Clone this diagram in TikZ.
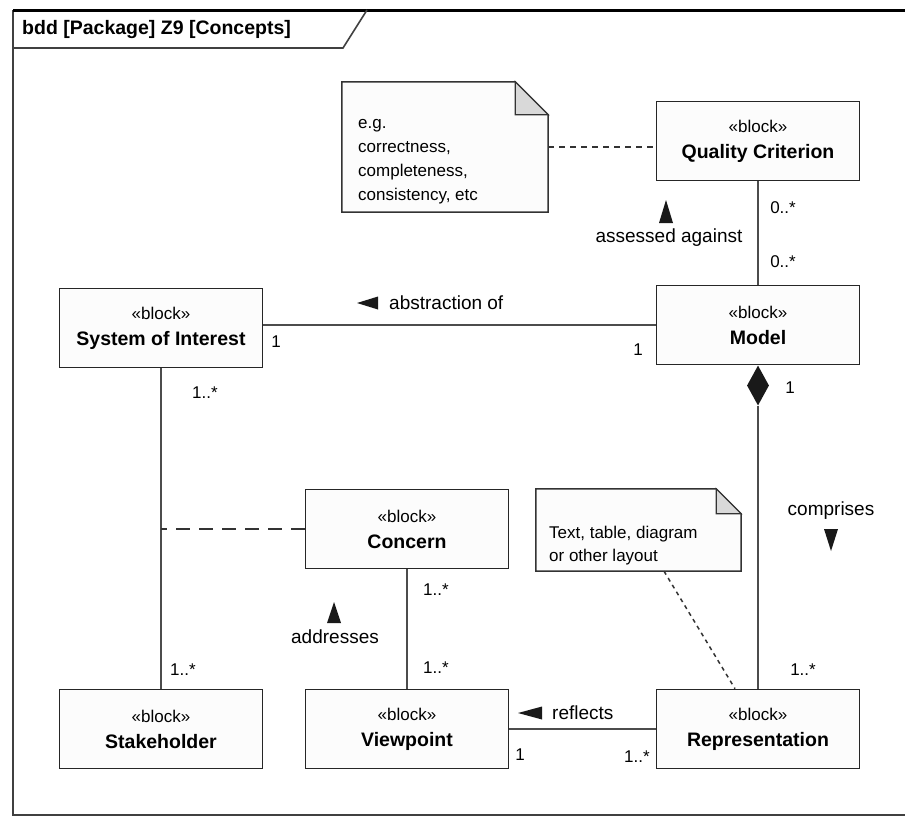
\documentclass[tikz,border=0pt]{standalone}
\usepackage{fontspec}
\setmainfont{Liberation Sans}
\usetikzlibrary{calc,shapes.geometric}

\newcommand{\stereo}[1]{{\fontsize{17}{20}\selectfont «#1»}}

\begin{document}
\begin{tikzpicture}[x=1pt,y=-1pt,
  block/.style={draw=black!85,line width=1.6pt,fill=black!1,minimum width=203pt,minimum height=79pt,inner sep=0pt,align=center,font=\fontsize{19.5}{26}\selectfont},
  notebox/.style={inner sep=0pt},
  noteline/.style={draw=black!80,line width=1.5pt,fill=black!1},
  fold/.style={draw=black!80,line width=1.2pt,fill=black!15},
  notetxt/.style={align=left,inner sep=0pt,font=\fontsize{17}{24}\selectfont},
  lbl/.style={inner sep=0pt,font=\fontsize{19}{22}\selectfont},
  mult/.style={inner sep=0pt,font=\fontsize{17}{20}\selectfont},
  assoc/.style={draw=black!70,line width=2pt},
  comp/.style={diamond,fill=black!90,inner sep=0pt,minimum width=22pt,minimum height=40pt},
  tri/.style={fill=black!90},
  frame/.style={draw=black!75,line width=1.6pt}]
\useasboundingbox (0,0) rectangle (905,817);

% frame and header
\draw[frame] (905,815) -- (13,815) -- (13,10);
\draw[line width=3pt] (13,10) -- (905,10);
\draw[frame] (13,48) -- (343,48) -- (367,10);
\node[anchor=west,inner sep=0pt,font=\fontsize{19.5}{22}\selectfont\bfseries] (hdr) at (22,29) {bdd [Package] Z9 [Concepts]};

% blocks
\node[block] (qc) at (758,141) {\stereo{block}\\\textbf{Quality Criterion}};
\node[block] (soi) at (161,328) {\stereo{block}\\\textbf{System of Interest}};
\node[block] (model) at (758,325) {\stereo{block}\\\textbf{Model}};
\node[block] (concern) at (407,529) {\stereo{block}\\\textbf{Concern}};
\node[block] (stake) at (161,729) {\stereo{block}\\\textbf{Stakeholder}};
\node[block] (view) at (407,729) {\stereo{block}\\\textbf{Viewpoint}};
\node[block] (rep) at (758,729) {\stereo{block}\\\textbf{Representation}};

% notes
\node[notebox,minimum width=206pt,minimum height=130pt] (note1) at (445,147) {};
\draw[noteline] (note1.north west) -- ($(note1.north east)+(-33,0)$) -- ($(note1.north east)+(0,33)$) -- (note1.south east) -- (note1.south west) -- cycle;
\draw[fold] ($(note1.north east)+(-33,0)$) -- ($(note1.north east)+(-33,33)$) -- ($(note1.north east)+(0,33)$) -- cycle;
\node[notetxt,anchor=north west] (note1txt) at (358,111) {\strut e.g.\\correctness,\\completeness,\\consistency, etc};

\node[notebox,minimum width=205pt,minimum height=82pt] (note2) at (638.5,530) {};
\draw[noteline] (note2.north west) -- ($(note2.north east)+(-25,0)$) -- ($(note2.north east)+(0,25)$) -- (note2.south east) -- (note2.south west) -- cycle;
\draw[fold] ($(note2.north east)+(-25,0)$) -- ($(note2.north east)+(-25,25)$) -- ($(note2.north east)+(0,25)$) -- cycle;
\node[notetxt,anchor=north west,font=\fontsize{17}{23}\selectfont] (note2txt) at (549,522) {\strut Text, table, diagram\\or other layout};

% connectors
\draw[draw=black!80,line width=1.5pt,dash pattern=on 6pt off 5pt] (note1.east) -- (note1.east -| qc.west);
\draw[assoc] (qc) -- (model);
\draw[assoc] (model.west) -- (model.west -| soi.east);
\node[comp,anchor=north] (dmd) at (model.south) {};
\draw[assoc] (dmd.south) -- (dmd.south |- rep.north);
\draw[assoc] (soi) -- (stake);
\draw[draw=black!80,line width=1.8pt,dash pattern=on 14pt off 9pt] (concern.west) -- (concern.west -| soi.south);
\draw[assoc] (concern) -- (view);
\draw[assoc] (view.east) -- (view.east -| rep.west);
\draw[draw=black!80,line width=1.5pt,dash pattern=on 4pt off 4pt] ($(note2.south)+(25.5,0)$) -- ($(rep.north)+(-23,0)$);

% association names
\node[lbl,anchor=west] (abslbl) at (389,303) {abstraction of};
\fill[tri] ($(abslbl.west)+(-11,-6.5)$) -- ++(0,13) -- ++(-21,-6.5) -- cycle;
\node[lbl] (asslbl) at (669,238) {assessed against};
\fill[tri] (659,223) -- (673,223) -- (666,200) -- cycle;
\node[lbl] (addlbl) at (335,637) {addresses};
\fill[tri] (327,623) -- (341,623) -- (334,602) -- cycle;
\node[lbl,anchor=west] (reflbl) at (552,713) {reflects};
\fill[tri] ($(reflbl.west)+(-10,-6.5)$) -- ++(0,13) -- ++(-24,-6.5) -- cycle;
\node[lbl] (comlbl) at (831,511) {comprises};
\fill[tri] (824,529) -- (838,529) -- (831,551) -- cycle;

% multiplicities
\node[mult] (m1) at (783,208) {0..*};
\node[mult] (m2) at (783,262) {0..*};
\node[mult] (m3) at (276,342) {1};
\node[mult] (m4) at (638,350) {1};
\node[mult] (m5) at (790,388) {1};
\node[mult] (m6) at (205,393) {1..*};
\node[mult] (m7) at (183,670) {1..*};
\node[mult] (m8) at (436,590) {1..*};
\node[mult] (m9) at (436,668) {1..*};
\node[mult] (m10) at (520,755) {1};
\node[mult] (m11) at (637,757) {1..*};
\node[mult] (m12) at (803,670) {1..*};
\end{tikzpicture}
\end{document}
